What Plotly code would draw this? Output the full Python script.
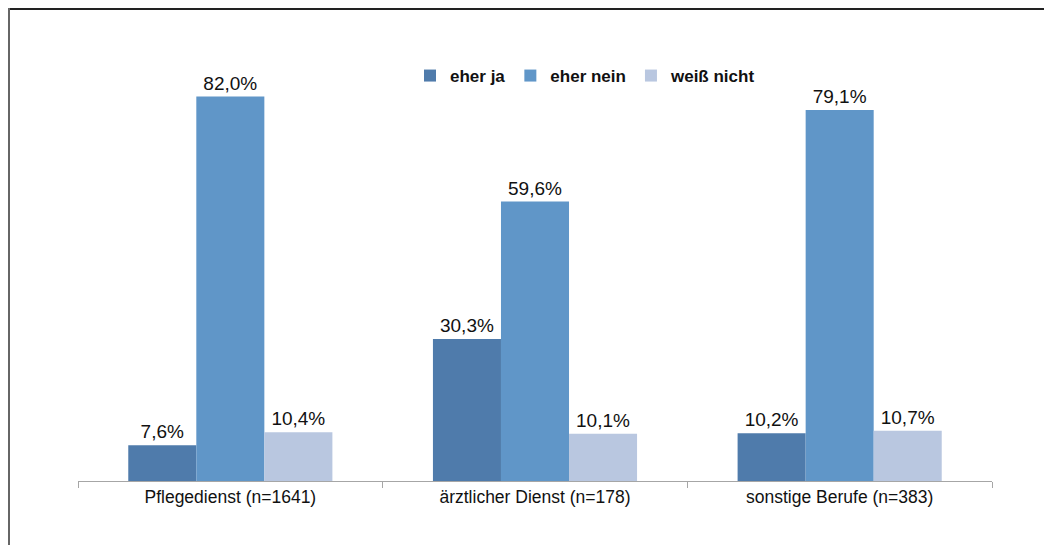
import plotly.graph_objects as go

kategorien = ["Pflegedienst (n=1641)", "ärztlicher Dienst (n=178)", "sonstige Berufe (n=383)"]
eher_ja = [7.6, 30.3, 10.2]
eher_nein = [82.0, 59.6, 79.1]
weiss_nicht = [10.4, 10.1, 10.7]

serien = [
    ("eher ja", eher_ja, "#4f7bab"),
    ("eher nein", eher_nein, "#6096c8"),
    ("weiß nicht", weiss_nicht, "#b9c7e0"),
]

# die Seite hat 8px Rand, daher Figur etwas kleiner
OFF = 8
W, H = 1052 - OFF, 545 - OFF
L, R, T, B = 78 - OFF, 60, 59 - OFF, 64
pw, ph = W - L - R, H - T - B


def px_x(p):
    return (p - OFF - L) / pw


def px_y(p):
    return (H + OFF - B - p) / ph


fig = go.Figure()
for name, werte, farbe in serien:
    fig.add_trace(go.Bar(
        x=kategorien, y=werte, name=name,
        marker={"color": farbe, "line": {"width": 0}},
        texttemplate="%{y:.1f}%", textposition="outside",
        textfont={"size": 19, "color": "#111"},
        cliponaxis=False,
    ))

# Rahmen oben und links
fig.add_shape(type="line", xref="paper", yref="paper",
              x0=px_x(OFF), x1=px_x(1052 + 10), y0=px_y(OFF + 1), y1=px_y(OFF + 1),
              line={"color": "#222", "width": 2})
fig.add_shape(type="line", xref="paper", yref="paper",
              x0=px_x(OFF + 1), x1=px_x(OFF + 1), y0=px_y(OFF), y1=px_y(560),
              line={"color": "#666", "width": 2})

fig.update_layout(
    width=W, height=H,
    margin={"l": L, "r": R, "t": T, "b": B},
    paper_bgcolor="white", plot_bgcolor="white",
    font={"family": "Liberation Sans, Arial, sans-serif", "size": 17.5, "color": "#111"},
    separators=",.",
    barmode="group", bargap=0.33, bargroupgap=0,
    showlegend=True,
    legend={"orientation": "h", "x": px_x(410), "xanchor": "left",
            "y": px_y(76), "yanchor": "middle",
            "font": {"size": 17, "weight": "bold"},
            "itemwidth": 30, "tracegroupgap": 0},
    xaxis={"showline": True, "linecolor": "#a6a6a6", "linewidth": 1,
           "ticks": "outside", "tickson": "boundaries", "ticklen": 6,
           "tickcolor": "#a6a6a6", "tickfont": {"size": 17.5}},
    yaxis={"visible": False, "range": [0, 90]},
)

fig.write_html("out.html")
